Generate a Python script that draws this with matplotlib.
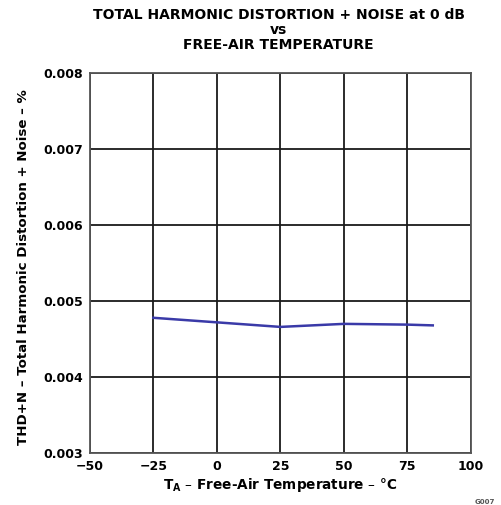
import numpy as np
import matplotlib.pyplot as plt

plt.rcParams['font.family'] = ['DejaVu Sans']
plt.rcParams['font.weight'] = 'bold'

# THD+N readings vs ambient temperature
temperature = [-25, 0, 25, 50, 75, 85]
thd_noise = [0.00478, 0.00472, 0.00466, 0.00470, 0.00469, 0.00468]

x_ticks = [-50, -25, 0, 25, 50, 75, 100]
x_labels = ['\u221250', '\u221225', '0', '25', '50', '75', '100']
y_ticks = [0.003, 0.004, 0.005, 0.006, 0.007, 0.008]

fig = plt.figure(figsize=(5.02, 5.05), dpi=100)
ax = fig.add_axes([0.179, 0.103, 0.759, 0.752])

ax.plot(temperature, thd_noise, color='#3a3aa8', linewidth=1.8)

ax.set_xlim(-50, 100)
ax.set_ylim(0.003, 0.008)
ax.set_xticks(x_ticks)
ax.set_xticklabels(x_labels)
ax.set_yticks(y_ticks)
ax.set_yticklabels(['%.3f' % v for v in y_ticks])
ax.tick_params(length=0, labelsize=9, pad=5)
ax.grid(True, color='#1a1a1a', linewidth=1.3)
for s in ax.spines.values():
    s.set_color('#555555')
    s.set_linewidth(1.3)

ax.set_xlabel('T$_\\mathregular{A}$ \u2013 Free-Air Temperature \u2013 \u00b0C',
              fontsize=9.8, fontweight='bold', labelpad=2)
ax.set_ylabel('THD+N \u2013 Total Harmonic Distortion + Noise \u2013 %',
              fontsize=9.6, fontweight='bold')
ax.yaxis.set_label_coords(-0.158, 0.49)

fig.text(0.555, 0.984, 'TOTAL HARMONIC DISTORTION + NOISE at 0 dB\nvs\nFREE-AIR TEMPERATURE',
         ha='center', va='top', fontsize=10, fontweight='bold', linespacing=1.1)
fig.text(0.945, 0.0, 'G007', fontsize=5, color='#555555', ha='left', va='bottom')

plt.savefig('out.png', dpi=100)
